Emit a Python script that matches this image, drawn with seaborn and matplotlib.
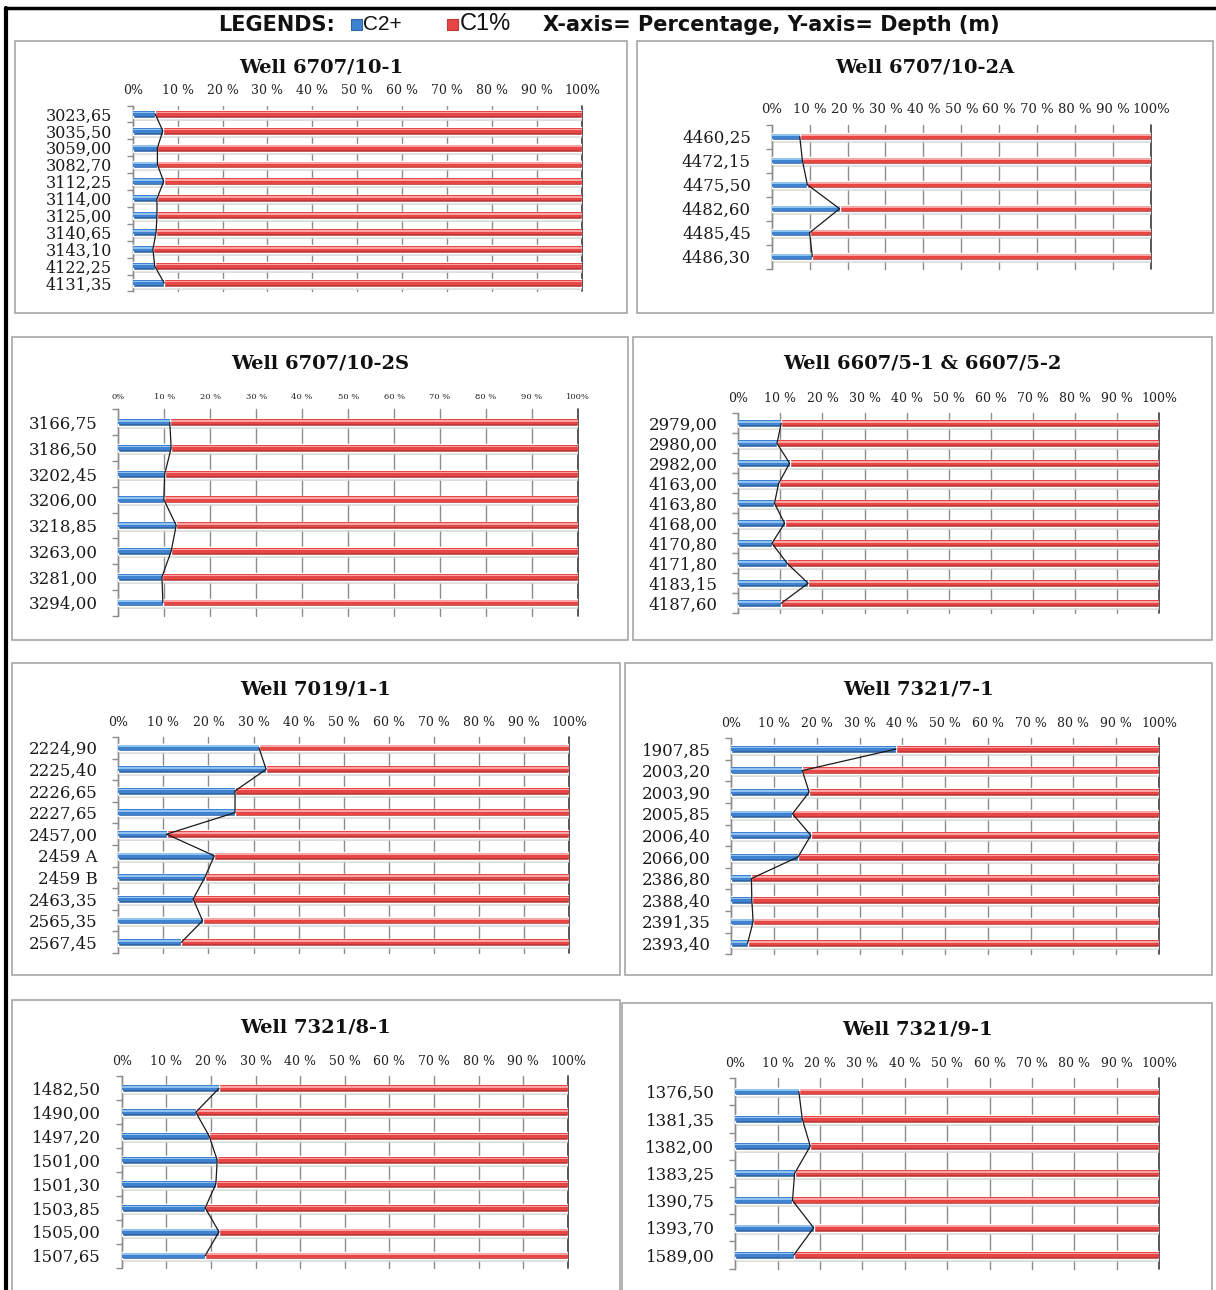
import numpy as np
import pandas as pd
import matplotlib
matplotlib.use("Agg")
import matplotlib.pyplot as plt
from matplotlib.patches import Rectangle
from matplotlib.lines import Line2D
from matplotlib.ticker import FixedLocator
import seaborn as sns

sns.set_theme(style="white")
plt.rcParams["font.family"] = ["DejaVu Serif"]

# ---------------------------------------------------------------- data
# C2+ share (%) of each sample; the remainder of each bar is C1 (%).
well_6707_10_1_depth = ["3023,65", "3035,50", "3059,00", "3082,70", "3112,25", "3114,00",
                        "3125,00", "3140,65", "3143,10", "4122,25", "4131,35"]
well_6707_10_1_c2 = [5.0, 6.7, 5.5, 5.5, 6.9, 5.4, 5.4, 5.2, 4.5, 4.9, 7.0]

well_6707_10_2a_depth = ["4460,25", "4472,15", "4475,50", "4482,60", "4485,45", "4486,30"]
well_6707_10_2a_c2 = [7.4, 8.1, 9.4, 17.9, 10.0, 10.7]

well_6707_10_2s_depth = ["3166,75", "3186,50", "3202,45", "3206,00", "3218,85", "3263,00",
                         "3281,00", "3294,00"]
well_6707_10_2s_c2 = [11.2, 11.5, 10.1, 9.9, 12.6, 11.5, 9.5, 9.7]

well_6607_5_depth = ["2979,00", "2980,00", "2982,00", "4163,00", "4163,80", "4168,00",
                     "4170,80", "4171,80", "4183,15", "4187,60"]
well_6607_5_c2 = [10.2, 9.2, 12.2, 9.6, 8.6, 11.0, 8.0, 11.6, 16.6, 10.2]

well_7019_1_1_depth = ["2224,90", "2225,40", "2226,65", "2227,65", "2457,00", "2459 A",
                       "2459 B", "2463,35", "2565,35", "2567,45"]
well_7019_1_1_c2 = [31.2, 32.8, 25.9, 25.9, 10.7, 21.3, 19.2, 16.6, 18.7, 14.0]

well_7321_7_1_depth = ["1907,85", "2003,20", "2003,90", "2005,85", "2006,40", "2066,00",
                       "2386,80", "2388,40", "2391,35", "2393,40"]
well_7321_7_1_c2 = [38.5, 16.6, 18.2, 14.3, 18.6, 15.6, 4.7, 4.8, 5.1, 3.8]

well_7321_8_1_depth = ["1482,50", "1490,00", "1497,20", "1501,00", "1501,30", "1503,85",
                       "1505,00", "1507,65"]
well_7321_8_1_c2 = [21.8, 16.6, 19.6, 21.4, 21.1, 18.7, 21.8, 18.7]

well_7321_9_1_depth = ["1376,50", "1381,35", "1382,00", "1383,25", "1390,75", "1393,70",
                       "1589,00"]
well_7321_9_1_c2 = [15.0, 15.8, 17.7, 14.0, 13.5, 18.5, 13.8]

x_ticks = [0, 10, 20, 30, 40, 50, 60, 70, 80, 90, 100]
x_tick_labels = ["0%", "10 %", "20 %", "30 %", "40 %", "50 %", "60 %", "70 %",
                 "80 %", "90 %", "100%"]

# ---------------------------------------------------------------- layout
W, H = 1216, 1290
fig = plt.figure(figsize=(W / 100, H / 100), dpi=100)
fig.patch.set_facecolor("white")

BLUE = "#3f82cf"
BLUE_HI = "#92c2f0"
BLUE_DK = "#3266a6"
RED = "#e84545"
RED_HI = "#f7a5a5"
RED_DK = "#bd3a3a"
GRID = "#8c8c8c"
BAR_PX = 7.5


def fx(x):
    return x / W


def fy(y):
    return 1 - y / H


panels = [
    dict(title="Well 6707/10-1", depth=well_6707_10_1_depth, c2=well_6707_10_1_c2,
         box=(15, 41, 627, 313), x0=132.7, x100=582, y1=114, y2=283, ty=67,
         yfs=11.5, xfs=9.0),
    dict(title="Well 6707/10-2A", depth=well_6707_10_2a_depth, c2=well_6707_10_2a_c2,
         box=(637, 41, 1213, 313), x0=771.7, x100=1151, y1=136.7, y2=256.7, ty=67,
         yfs=12.0, xfs=9.5),
    dict(title="Well 6707/10-2S", depth=well_6707_10_2s_depth, c2=well_6707_10_2s_c2,
         box=(12, 337, 628, 640), x0=118.3, x100=578, y1=422.3, y2=602.7, ty=363,
         yfs=12.0, xfs=6.0),
    dict(title="Well 6607/5-1 & 6607/5-2", depth=well_6607_5_depth, c2=well_6607_5_c2,
         box=(633, 337, 1212, 640), x0=738.3, x100=1159, y1=423.3, y2=603.3, ty=363,
         yfs=12.0, xfs=9.0),
    dict(title="Well 7019/1-1", depth=well_7019_1_1_depth, c2=well_7019_1_1_c2,
         box=(12, 663, 620, 975), x0=118.3, x100=569, y1=747.7, y2=942.3, ty=689,
         yfs=12.0, xfs=9.0),
    dict(title="Well 7321/7-1", depth=well_7321_7_1_depth, c2=well_7321_7_1_c2,
         box=(625, 663, 1212, 975), x0=731.3, x100=1159, y1=749, y2=943.3, ty=689,
         yfs=12.0, xfs=9.0),
    dict(title="Well 7321/8-1", depth=well_7321_8_1_depth, c2=well_7321_8_1_c2,
         box=(12, 1000, 620, 1296), x0=121.7, x100=568, y1=1088.3, y2=1255.7, ty=1027,
         yfs=12.0, xfs=9.0),
    dict(title="Well 7321/9-1", depth=well_7321_9_1_depth, c2=well_7321_9_1_c2,
         box=(622, 1003, 1212, 1296), x0=735.3, x100=1159, y1=1091.7, y2=1255, ty=1029,
         yfs=12.0, xfs=9.0),
]

for p in panels:
    # panel frame and title
    bx0, by0, bx1, by1 = p["box"]
    fig.patches.append(Rectangle((fx(bx0), fy(by1)), fx(bx1 - bx0), (by1 - by0) / H,
                                 transform=fig.transFigure, fill=False,
                                 edgecolor="#a6a6a6", linewidth=1.2, zorder=0))
    fig.text(fx((bx0 + bx1) / 2), fy(p["ty"]), p["title"], ha="center", va="center",
             fontsize=14, fontweight="bold", color="#111111")

    depth = p["depth"]
    c2 = np.array(p["c2"])
    c1 = 100 - c2
    n = len(depth)
    step = (p["y2"] - p["y1"]) / (n - 1)
    top = p["y1"] - step / 2
    bottom = p["y2"] + step / 2
    ax = fig.add_axes([fx(p["x0"]), fy(bottom), fx(p["x100"] - p["x0"]), (bottom - top) / H])
    ax.set_facecolor("none")
    frac = BAR_PX / step

    df = pd.DataFrame({"depth": depth, "C2+": c2, "C1%": c1})
    df["total"] = df["C2+"] + df["C1%"]
    pos = np.arange(n)

    # soft shadow under each cylinder
    ax.barh(pos + frac * 0.6, df["total"], height=frac * 0.6, color="#d6d6d6",
            alpha=0.8, linewidth=0, zorder=1)

    # C1% part (full stack) and C2+ part, drawn as shaded cylinders
    sns.barplot(data=df, x="total", y="depth", orient="h", color=RED_DK, width=frac,
                saturation=1, errorbar=None, ax=ax, zorder=2)
    ax.barh(pos - frac * 0.08, df["total"], height=frac * 0.68, color=RED,
            linewidth=0, zorder=3)
    ax.barh(pos - frac * 0.2, df["total"], height=frac * 0.22, color=RED_HI,
            linewidth=0, zorder=3)
    sns.barplot(data=df, x="C2+", y="depth", orient="h", color=BLUE_DK, width=frac,
                saturation=1, errorbar=None, ax=ax, zorder=4)
    ax.barh(pos - frac * 0.08, df["C2+"], height=frac * 0.68, color=BLUE,
            linewidth=0, zorder=5)
    ax.barh(pos - frac * 0.2, df["C2+"], height=frac * 0.22, color=BLUE_HI,
            linewidth=0, zorder=5)

    # boundary line between C2+ and C1
    ax.plot(df["C2+"], pos, color="#1a1a1a", linewidth=0.9, zorder=6)

    # vertical gridlines every 10 %
    for t in x_ticks[:-1]:
        ax.axvline(t, color=GRID, linewidth=1.0, zorder=0.5, clip_on=False)
    ax.axvline(100, color="#3a3a3a", linewidth=1.2, zorder=0.5, clip_on=False)

    ax.set_xlim(0, 100)
    ax.set_ylim(n - 0.5, -0.5)
    ax.set_xlabel("")
    ax.set_ylabel("")
    ax.xaxis.tick_top()
    ax.set_xticks(x_ticks)
    ax.set_xticklabels(x_tick_labels, fontsize=p["xfs"], color="#222222")
    ax.tick_params(axis="x", length=0, pad=6)
    ax.set_yticks(pos)
    ax.set_yticklabels(depth, fontsize=p["yfs"], color="#1a1a1a")
    ax.tick_params(axis="y", which="major", length=0, pad=15)
    ax.yaxis.set_minor_locator(FixedLocator(np.arange(-0.5, n, 1.0)))
    ax.tick_params(axis="y", which="minor", length=4, width=1, color=GRID, left=True)
    for s in ["top", "right", "bottom"]:
        ax.spines[s].set_visible(False)
    ax.spines["left"].set_color(GRID)
    ax.spines["left"].set_linewidth(1.0)
    ax.grid(False)

# ---------------------------------------------------------------- header
fig.text(fx(218), fy(25), "LEGENDS:", ha="left", va="center", fontsize=15,
         fontweight="bold", family="DejaVu Sans", color="#111111")
fig.patches.append(Rectangle((fx(351), fy(30)), fx(11), 11 / H, transform=fig.transFigure,
                             facecolor=BLUE, edgecolor=BLUE_DK, linewidth=0.8))
fig.text(fx(363), fy(24), "C2+", ha="left", va="center", fontsize=15,
         family="Liberation Sans", color="#111111")
fig.patches.append(Rectangle((fx(447), fy(30)), fx(11), 11 / H, transform=fig.transFigure,
                             facecolor=RED, edgecolor=RED_DK, linewidth=0.8))
fig.text(fx(460), fy(24), "C1%", ha="left", va="center", fontsize=17,
         family="Liberation Sans", color="#111111")
fig.text(fx(543), fy(25), "X-axis= Percentage, Y-axis= Depth (m)", ha="left",
         va="center", fontsize=15, fontweight="bold", family="DejaVu Sans",
         color="#111111")

# outer frame (left and top edges)
fig.lines.append(Line2D([fx(6), fx(6)], [fy(8), fy(1290)], transform=fig.transFigure,
                        color="black", linewidth=3))
fig.lines.append(Line2D([fx(5), fx(1216)], [fy(8), fy(8)], transform=fig.transFigure,
                        color="black", linewidth=2.5))

fig.savefig("out.png", dpi=100, facecolor="white")
